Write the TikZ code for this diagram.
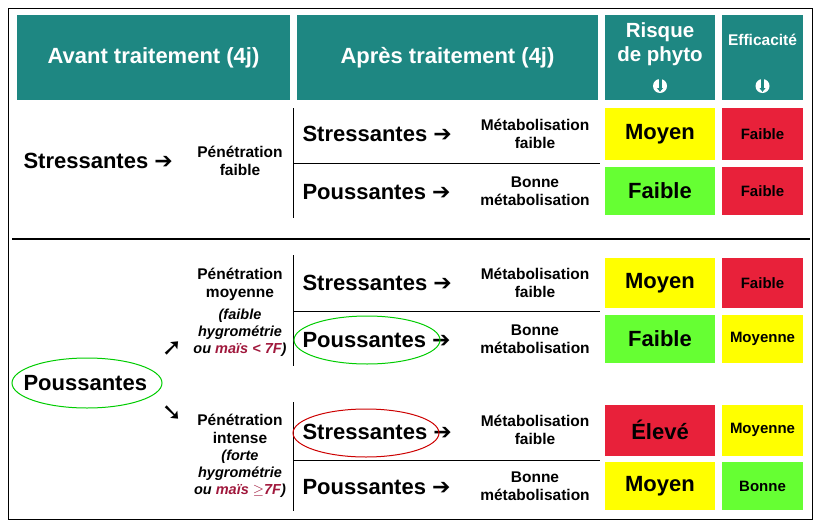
\documentclass[tikz,border=0pt]{standalone}
\usepackage{fontspec}
\setmainfont{Liberation Sans}
\newfontfamily\symbfont{DejaVu Sans}
\usetikzlibrary{positioning,arrows.meta,shapes.geometric}
\definecolor{teal1}{HTML}{1E8782}
\definecolor{ylw}{HTML}{FFFF00}
\definecolor{grn}{HTML}{66FF33}
\definecolor{rd}{HTML}{E8213A}
\definecolor{mais}{HTML}{A0183C}
\newcommand{\arr}{{\symbfont\bfseries ➔}}
\tikzset{
  head/.style={fill=teal1, text=white, font=\bfseries\fontsize{22}{24}\selectfont, align=center, inner sep=0pt},
  cell/.style={inner sep=0pt, font=\bfseries\fontsize{22}{24}\selectfont},
  small/.style={font=\bfseries\fontsize{15.5}{18}\selectfont, align=center},
  big/.style={font=\bfseries\fontsize{22}{24}\selectfont, anchor=west},
  note/.style={font=\bfseries\itshape\fontsize{14.5}{17}\selectfont, align=center},
  ring/.style={ellipse, draw, line width=1pt, minimum width=146pt, minimum height=48pt}
}
\begin{document}
\begin{tikzpicture}[x=1pt,y=-1pt]
\useasboundingbox (0,0) rectangle (820,525);
\draw[line width=0.8pt] (8,8) rectangle (812,519);
% headers
\node[head, minimum width=273pt, minimum height=85pt] (h1) at (153.5,57.5) {Avant traitement (4j)};
\node[head, minimum width=301pt, minimum height=85pt] (h2) at (447.5,57.5) {Après traitement (4j)};
\node[head, minimum width=110pt, minimum height=85pt] (h3) at (660,57.5) {};
\node[head, minimum width=81pt, minimum height=85pt] (h4) at (762.5,57.5) {};
\node[head, font=\bfseries\fontsize{20.5}{24}\selectfont] at (660,44) {Risque\\de phyto};
\node[head, font=\bfseries\fontsize{15.5}{18}\selectfont] at (762.5,40) {Efficacité};
\foreach \cx/\nm in {660/i3, 762.5/i4} {
  \node[circle, fill=white, minimum size=14pt, inner sep=0pt] (\nm) at (\cx,86) {};
  \draw[teal1, line width=3pt, -{Latex[length=4pt,width=7pt]}] (\cx,79) -- (\cx,92);
}
% grid lines
\draw[line width=1pt] (293,108) -- (293,218);
\draw[line width=1pt] (293,163) -- (600,163);
\draw[line width=2pt] (12,239) -- (810,239);
\draw[line width=1pt] (293,255) -- (293,366);
\draw[line width=1pt] (293,311) -- (600,311);
\draw[line width=1pt] (293,402) -- (293,511);
\draw[line width=1pt] (293,460) -- (600,460);
% coloured cells
\foreach \y/\h/\ca/\ta/\cb/\tb in {
  134/52/ylw/Moyen/rd/Faible,
  191/48/grn/Faible/rd/Faible,
  283/50/ylw/Moyen/rd/Faible,
  339/48/grn/Faible/ylw/Moyenne,
  430/51/rd/Élevé/ylw/Moyenne,
  486/48/ylw/Moyen/grn/Bonne} {
  \node[cell, fill=\ca, minimum width=110pt, minimum height=\h pt] at (660,\y) {\ta};
  \node[cell, fill=\cb, minimum width=81pt, minimum height=\h pt, font=\bfseries\fontsize{15}{17}\selectfont] at (762.5,\y) {\tb};
}
% top section
\node[big] (s0) at (20,161) {Stressantes \arr};
\node[small] (p0) at (240,161) {Pénétration\\faible};
\node[big] (s1) at (299,134) {Stressantes \arr};
\node[small] (m1) at (535,134) {Métabolisation\\faible};
\node[big] (s2) at (299,192) {Poussantes \arr};
\node[small] (m2) at (535,191) {Bonne\\métabolisation};
% bottom section
\node[big] (pl) at (20,383) {Poussantes};
\node[ring, draw=green!80!black, minimum width=150pt, minimum height=50pt] (rl) at (87,383) {};
\node[font=\symbfont\bfseries\fontsize{24}{24}\selectfont] (a1) at (172,349) {➚};
\node[font=\symbfont\bfseries\fontsize{24}{24}\selectfont] (a2) at (172,413) {➘};
\node[small] (p1) at (240,284) {Pénétration\\moyenne};
\node[note] (n1) at (240,333) {(faible\\hygrométrie\\ou {\color{mais}maïs < 7F})};
\node[small] (p2) at (240,429) {Pénétration\\intense};
\node[note] (n2) at (240,474) {(forte\\hygrométrie\\ou {\color{mais}maïs $\geq$7F})};
\node[big] (s3) at (299,283) {Stressantes \arr};
\node[small] (m3) at (535,283) {Métabolisation\\faible};
\node[big] (s4) at (299,340) {Poussantes \arr};
\node[ring, draw=green!80!black] (r4) at (367,340) {};
\node[small] (m4) at (535,339) {Bonne\\métabolisation};
\node[big] (s5) at (299,432) {Stressantes \arr};
\node[ring, draw=red!80!black] (r5) at (366,433) {};
\node[small] (m5) at (535,430) {Métabolisation\\faible};
\node[big] (s6) at (299,487) {Poussantes \arr};
\node[small] (m6) at (535,486) {Bonne\\métabolisation};
\end{tikzpicture}
\end{document}
